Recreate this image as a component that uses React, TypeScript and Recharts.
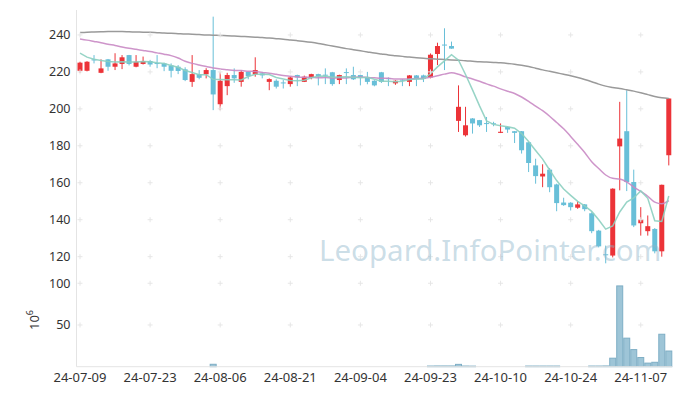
import React from 'react';
import { ComposedChart, Bar, Line, XAxis, YAxis, ReferenceDot } from 'recharts';

const dates = [
  '24-07-09','24-07-10','24-07-11','24-07-12','24-07-15','24-07-16','24-07-17','24-07-18','24-07-19','24-07-22',
  '24-07-23','24-07-24','24-07-25','24-07-26','24-07-29','24-07-30','24-07-31','24-08-01','24-08-02','24-08-05',
  '24-08-06','24-08-07','24-08-08','24-08-09','24-08-12','24-08-13','24-08-14','24-08-16','24-08-19','24-08-20',
  '24-08-21','24-08-22','24-08-23','24-08-26','24-08-27','24-08-28','24-08-29','24-08-30','24-09-02','24-09-03',
  '24-09-04','24-09-05','24-09-06','24-09-09','24-09-10','24-09-11','24-09-12','24-09-13','24-09-19','24-09-20',
  '24-09-23','24-09-24','24-09-25','24-09-26','24-09-27','24-09-30','24-10-02','24-10-04','24-10-07','24-10-08',
  '24-10-10','24-10-11','24-10-14','24-10-15','24-10-16','24-10-17','24-10-18','24-10-21','24-10-22','24-10-23',
  '24-10-24','24-10-25','24-10-28','24-10-29','24-10-30','24-10-31','24-11-01','24-11-04','24-11-05','24-11-06',
  '24-11-07','24-11-08','24-11-11','24-11-12','24-11-13'
];

const opens = [
  220.6,220.6,226.8,219.5,226.8,222.8,224.3,229.1,222.8,224.3,
  225.9,224.8,224.6,223.5,222.8,221.4,214.6,218.8,218.7,221,
  202.5,212.3,218.3,214.6,220,218.7,219.2,214.6,215.2,214.3,
  213.4,218.3,214.6,216.8,218.8,218.5,219.8,215.6,219.9,218.3,
  218.3,217,215.2,219.8,216.6,213.8,215.8,214.6,218.1,218.1,
  217,229.7,234.8,234,193.5,185.7,194.8,193.9,192.3,192.2,
  187,190.2,187.9,187.9,181.9,169.4,163.4,167.1,159.1,149.3,
  149.2,146.5,148.3,143.5,134.1,121.3,120.6,179.7,187.9,160.4,
  138.1,133.8,135,122.9,174.9
];
const highs = [
  225.5,225.8,229.1,226.8,227,230.1,229.1,229.2,229.1,228.3,
  226.5,229.1,225,224.6,223.7,222.5,229.1,221,222,249.9,
  219.8,219.5,221.9,221,220.2,227.9,220,216.5,216,215.6,
  217.5,218.5,218,219,219,221.9,220,218.5,221.9,222.8,
  218.5,220,215.5,220,217,215.5,216,218.3,218.3,218.5,
  230,235.8,243.6,236.4,212.7,201.1,195,194,195.6,193,
  192.1,190.4,188,188,182,173,170,168,159.5,151.9,
  149.5,150,148.5,144,134.5,126,157,203.8,210.1,167.1,
  146.8,142.3,135.5,159,205.8
];
const lows = [
  219.5,220.3,224.6,219.3,220.6,221,221.5,223.5,222.5,224,
  222.8,222,220.4,217,218.8,215,211.9,216,216.5,199.3,
  199.3,207.4,214.1,212,216,217.4,216.5,210.1,211,211,
  212,212.3,214.5,216,212.7,213.4,212.5,213.4,213.4,215.6,
  212.7,213.3,212.2,214,212.3,213,212.3,212.3,212.3,214.5,
  216.5,223.7,221,232.5,187.5,185,186.6,190.2,187.5,190.6,
  186.9,187,181.5,175.8,165.8,159.5,157.6,154.9,144.6,147.5,
  145,145.9,144.6,132.7,125,116.4,119.6,155.9,155.5,136,
  131.4,131.4,121.8,120,169.4
];
const closes = [
  225,225.5,226.2,221.9,222.8,224.6,227.9,224.3,225.5,225.9,
  224,224.4,222.8,220.6,220.5,215.6,218.8,216.8,221,207.8,
  215.2,218.3,216.5,220,217.7,221,218.1,216.1,212,214,
  217,217,217.4,218.8,217.7,218.1,213.4,218.3,219.5,216,
  217,214.6,212.7,214.6,216.3,215.2,215.5,218.1,216,216.3,
  229.3,234,234.4,232.6,201.1,191.1,192.1,191.1,192,191.9,
  187.6,188.8,187,177.6,170.7,163.6,164.9,157.6,149,147.9,
  146.8,148.3,145.7,133.8,125.6,121,156.8,183.9,160.4,136.9,
  140.1,136.5,122.9,158.9,205.6
];
const ma5 = [
  230.2,228.0,226.8,226.2,225.6,225.4,225.5,225.4,225.4,225.6,
  225.5,224.9,224.5,223.5,222.5,220.8,219.7,218.5,218.5,216.0,
  215.9,215.8,215.8,215.6,217.5,218.7,218.7,218.6,217.0,216.2,
  215.4,215.2,215.5,216.8,217.6,217.8,217.1,217.3,217.4,217.1,
  216.8,217.1,216.0,215.0,215.0,214.7,214.9,215.9,216.2,216.2,
  219.0,222.7,226.0,229.3,226.3,218.6,210.3,201.6,193.5,191.6,
  190.9,190.3,189.5,186.6,182.3,177.5,172.8,166.9,161.2,156.6,
  153.2,149.9,147.5,144.5,140.0,134.9,136.6,144.2,149.5,151.8,
  155.6,151.6,139.4,139.1,152.8
];
const ma20 = [
  237.8,237.2,236.5,235.8,235.0,234.3,233.5,232.8,232.2,231.6,
  231.0,230.3,229.6,228.8,227.5,225.8,224.6,223.7,222.9,222.1,
  221.6,221.2,220.8,220.7,220.4,220.2,219.7,219.3,218.7,218.1,
  217.7,217.3,217.1,217.0,216.8,217.0,216.7,216.8,216.7,217.1,
  217.2,217.0,216.8,216.6,216.5,216.2,216.1,216.2,216.4,216.5,
  217.1,217.9,218.8,219.5,218.7,217.3,216.2,214.9,213.5,212.3,
  210.8,209.5,208.3,206.4,204.1,201.5,199.0,196.0,192.6,189.2,
  185.1,180.8,176.4,171.4,167.7,164.2,162.4,162.0,160.4,157.7,
  155.3,152.7,149.5,148.6,150.3
];
const ma60 = [
  241.3,241.5,241.6,241.7,241.8,241.8,241.8,241.7,241.6,241.5,
  241.4,241.2,241.0,240.9,240.7,240.5,240.4,240.2,240.0,239.9,
  239.7,239.6,239.4,239.2,239.0,238.8,238.6,238.3,238.0,237.7,
  237.3,236.9,236.5,236.0,235.4,234.7,234.0,233.3,232.6,232.0,
  231.4,230.8,230.2,229.7,229.2,228.8,228.4,228.0,227.7,227.4,
  227.1,226.9,226.7,226.5,226.3,226.1,225.8,225.5,225.3,225.1,
  224.9,224.6,224.2,223.6,222.9,222.0,221.1,220.3,219.5,218.7,
  217.9,217.0,215.9,214.7,213.4,212.3,211.6,211.0,210.3,209.6,
  208.7,207.7,206.7,206.0,205.6
];
// volume in millions
const volumes = [
  0.3,0.3,0.3,0.3,0.3,0.3,0.3,0.3,0.3,0.3,
  0.3,0.3,0.3,0.3,0.3,0.3,0.3,0.3,0.3,2.9,
  0.3,0.3,0.3,0.3,0.3,0.3,0.3,0.3,0.3,0.3,
  0.3,0.3,0.3,0.3,0.3,0.3,0.3,0.3,0.3,0.3,
  0.3,0.3,0.3,0.3,0.3,0.3,0.3,0.3,0.3,0.3,
  0.8,0.9,0.9,0.9,2.8,0.8,0.7,0.3,0.3,0.3,
  0.3,0.3,0.3,0.3,0.8,0.8,0.8,0.8,0.8,0.3,
  0.3,0.3,0.3,0.8,0.8,0.9,10.2,96.8,34.2,20.5,
  11.0,4.3,5.3,38.9,18.8
];

const tickDates = ['24-07-09','24-07-23','24-08-06','24-08-21','24-09-04','24-09-23','24-10-10','24-10-24','24-11-07'];
const priceTicks = [120,140,160,180,200,220,240];
const volTicks = [50,100];

const data = dates.map((d, i) => ({
  date: d,
  o: opens[i], hi: highs[i], lo: lows[i], c: closes[i],
  range: [lows[i], highs[i]],
  ma5: ma5[i], ma20: ma20[i], ma60: ma60[i],
  v: volumes[i],
  frame: 0.5,
}));

const UP = '#ec3338';
const DOWN = '#68bfd8';
const GRID = '#e6e6e6';
const FRAME = '#e4e4e4';

const Candle = (props: any) => {
  const { x, y, width, height, payload } = props;
  if (!payload) return null;
  const top = Math.min(y, y + height);
  const h = Math.abs(height);
  const { o, c, hi, lo } = payload;
  const ppu = hi > lo ? h / (hi - lo) : 0;
  const cx = x + width / 2;
  const bt = top + (hi - Math.max(o, c)) * ppu;
  const bb = top + (hi - Math.min(o, c)) * ppu;
  const color = c >= o ? UP : DOWN;
  const bw = 5;
  return (
    <g>
      <line x1={cx} x2={cx} y1={top} y2={top + h} stroke={color} strokeWidth={1} />
      <rect x={cx - bw / 2} y={bt} width={bw} height={Math.max(1, bb - bt)} fill={color} />
    </g>
  );
};

const VolBar = (props: any) => {
  const { x, y, width, height } = props;
  if (Math.abs(height) < 0.55) return null;
  const top = Math.min(y, y + height);
  return <rect x={x + 0.5} y={top} width={width - 1} height={Math.abs(height)} fill="#9ec5d7" stroke="#7eaec5" strokeWidth={1} />;
};

const Cross = (p: any) => (
  <g>
    <line x1={p.cx - 2.5} x2={p.cx + 2.5} y1={p.cy} y2={p.cy} stroke={GRID} strokeWidth={1} />
    <line x1={p.cx} x2={p.cx} y1={p.cy - 2.5} y2={p.cy + 2.5} stroke={GRID} strokeWidth={1} />
  </g>
);

const tickStyle = { fill: '#333', fontSize: 12.5, fontFamily: '"Noto Sans", sans-serif' };

export default function App() {
  return (
    <div style={{ position: 'absolute', left: 0, top: 0, width: 680, height: 396, background: '#fff', fontFamily: '"Noto Sans", sans-serif' }}>
      <div style={{ position: 'absolute', left: 0, top: 0 }}>
        <ComposedChart width={680} height={277} data={data} margin={{ top: 10, right: 7.7, bottom: 0, left: 0 }} barCategoryGap={0} barGap={0}>
          <XAxis dataKey="date" height={0} tick={false} tickLine={false} axisLine={{ stroke: FRAME }} />
          <XAxis xAxisId="top" dataKey="date" orientation="top" height={0} tick={false} tickLine={false} axisLine={{ stroke: FRAME }} />
          <YAxis domain={[109, 253.5]} ticks={priceTicks} width={76.5} tickLine={false} tickSize={4} tickMargin={2} axisLine={{ stroke: FRAME }} tick={tickStyle} allowDataOverflow interval={0} />
          <YAxis yAxisId="r" orientation="right" width={0} domain={[0, 1]} tick={false} tickLine={false} axisLine={{ stroke: FRAME }} />
          <Line xAxisId="top" yAxisId="r" dataKey="frame" stroke="none" dot={false} activeDot={false} isAnimationActive={false} />
          {tickDates.map((d) => priceTicks.map((t) => (
            <ReferenceDot key={d + t} x={d} y={t} r={3} shape={Cross} ifOverflow="visible" />
          )))}
          <Bar dataKey="range" shape={Candle} isAnimationActive={false} />
          <Line type="monotone" dataKey="ma60" stroke="#9a9a9a" strokeWidth={1.5} dot={false} isAnimationActive={false} />
          <Line type="monotone" dataKey="ma20" stroke="#c98ac4" strokeOpacity={0.9} strokeWidth={1.5} dot={false} isAnimationActive={false} />
          <Line type="linear" dataKey="ma5" stroke="#8ccfc0" strokeOpacity={0.9} strokeWidth={1.5} dot={false} isAnimationActive={false} />
        </ComposedChart>
      </div>
      <div style={{ position: 'absolute', left: 0, top: 267 }}>
        <ComposedChart width={680} height={129} data={data} margin={{ top: 10, right: 7.7, bottom: 0, left: 0 }} barCategoryGap={0} barGap={0}>
          <XAxis dataKey="date" ticks={tickDates} interval={0} height={29.3} tickLine={false} tickSize={4} tickMargin={2} axisLine={{ stroke: FRAME }} tick={{ ...tickStyle, fontSize: 13 }} />
          <YAxis domain={[0, 107.5]} ticks={volTicks} width={76.5} tickLine={false} tickSize={4} tickMargin={2} axisLine={{ stroke: FRAME }} tick={tickStyle} interval={0} />
          <YAxis yAxisId="r" orientation="right" width={0} domain={[0, 1]} tick={false} tickLine={false} axisLine={{ stroke: FRAME }} />
          <Line yAxisId="r" dataKey="frame" stroke="none" dot={false} activeDot={false} isAnimationActive={false} />
          {tickDates.map((d) => volTicks.map((t) => (
            <ReferenceDot key={d + t} x={d} y={t} r={3} shape={Cross} ifOverflow="visible" />
          )))}
          <Bar dataKey="v" shape={VolBar} isAnimationActive={false} />
        </ComposedChart>
      </div>
      <div style={{ position: 'absolute', left: 33, top: 320, transform: 'translate(-50%, -50%) rotate(-90deg)', fontSize: 13, color: '#333', whiteSpace: 'nowrap', lineHeight: 1 }}>
        10<sup style={{ fontSize: 9 }}>6</sup>
      </div>
      <div style={{ position: 'absolute', left: 319, top: 232, fontSize: 29.5, color: 'rgba(140,180,202,0.45)', whiteSpace: 'nowrap', pointerEvents: 'none', lineHeight: 1.2 }}>
        Leopard.InfoPointer.com
      </div>
    </div>
  );
}
